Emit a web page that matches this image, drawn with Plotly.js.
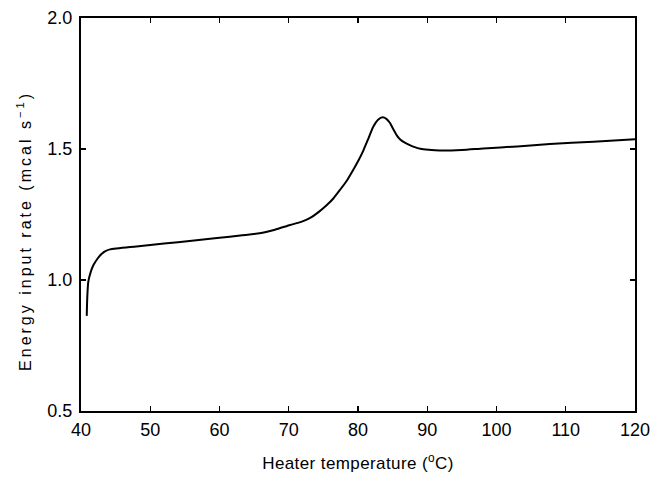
<!DOCTYPE html>
<html>
<head>
<meta charset="utf-8">
<script src="https://cdn.plot.ly/plotly-3.0.1.min.js"></script>
<style>
html,body{margin:0;padding:0;background:#fff}
#chart{width:653px;height:477px}
.annotation-text{letter-spacing:3px}
.xtitle{letter-spacing:0.4px}
</style>
</head>
<body>
<div id="chart"></div>
<script>
const temperature = [40.83, 40.9, 41.05, 41.4, 41.8, 42.4, 43.0, 43.6, 44.2, 48, 52, 56, 60, 63, 65.8, 68, 70.2, 71.8, 73.1, 74.3, 75.5, 76.5, 77.4, 78.4, 79.3, 80.1, 80.8, 81.5, 82.2, 82.9, 83.55, 84.1, 84.6, 85.1, 85.6, 86.1, 86.7, 87.4, 88.2, 89.0, 90.2, 91.8, 95, 98.1, 103, 107.7, 114, 120];
const energyRate = [0.863, 0.93, 0.993, 1.03, 1.057, 1.082, 1.10, 1.111, 1.117, 1.128, 1.139, 1.150, 1.161, 1.170, 1.178, 1.192, 1.210, 1.222, 1.237, 1.259, 1.286, 1.313, 1.344, 1.380, 1.420, 1.458, 1.496, 1.540, 1.585, 1.612, 1.621, 1.615, 1.600, 1.575, 1.552, 1.536, 1.525, 1.516, 1.507, 1.501, 1.497, 1.494, 1.496, 1.502, 1.510, 1.519, 1.528, 1.537];
const xTicks = [40, 50, 60, 70, 80, 90, 100, 110, 120];
const yTicks = [0.5, 1.0, 1.5, 2.0];
const yTitle = 'Energy input rate (mcal s<sup>−1</sup>)';
const xTitle = 'Heater temperature (<sup>o</sup>C)';

const fam = 'Liberation Sans, Arial, sans-serif';
Plotly.newPlot('chart', [{
  x: temperature, y: energyRate, type: 'scatter', mode: 'lines',
  line: {color: '#000', width: 2, shape: 'spline', smoothing: 0.6},
  hoverinfo: 'skip'
}], {
  width: 653, height: 477,
  margin: {l: 81, r: 18, t: 18, b: 66},
  paper_bgcolor: '#fff', plot_bgcolor: '#fff',
  showlegend: false,
  font: {family: fam, color: '#000'},
  xaxis: {
    range: [40, 120], tickvals: xTicks, ticktext: xTicks.map(String),
    ticks: 'inside', ticklen: 5, tickwidth: 1.2, tickcolor: '#000',
    showline: true, linecolor: '#000', linewidth: 2, mirror: 'ticks',
    showgrid: false, zeroline: false, ticklabelstandoff: 1,
    tickfont: {family: fam, size: 18, color: '#000'},
    title: {text: xTitle, font: {family: fam, size: 17, color: '#000'}, standoff: 19}
  },
  yaxis: {
    range: [0.5, 2.0], tickvals: yTicks, ticktext: yTicks.map(v => v.toFixed(1)),
    ticks: 'inside', ticklen: 5, tickwidth: 1.2, tickcolor: '#000',
    showline: true, linecolor: '#000', linewidth: 2, mirror: 'ticks',
    showgrid: false, zeroline: false, ticklabelstandoff: 3,
    tickfont: {family: fam, size: 18, color: '#000'}
  },
  annotations: [{
    text: yTitle, textangle: -90, showarrow: false,
    xref: 'paper', yref: 'paper', x: -0.103, y: 0.458,
    xanchor: 'center', yanchor: 'middle',
    font: {family: fam, size: 16, color: '#000'}
  }]
}, {staticPlot: true});
</script>
</body>
</html>
